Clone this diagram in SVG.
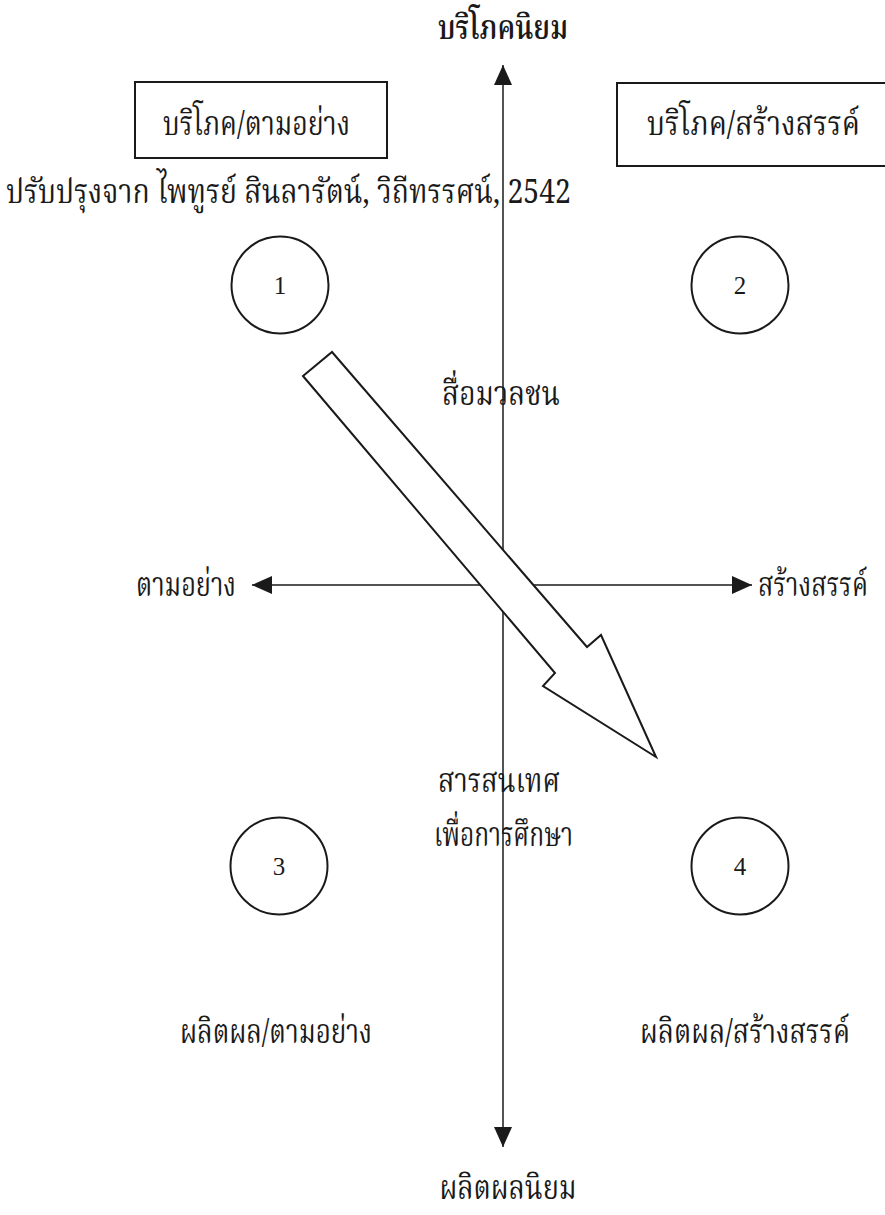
<svg xmlns="http://www.w3.org/2000/svg" width="885" height="1215" viewBox="0 0 885 1215">
<style>
.th{font-family:"Noto Serif Thai","Noto Sans Thai","Noto Sans","DejaVu Sans",sans-serif;font-size:33px;fill:#1a1a1a}
.end{text-anchor:end}
.num{font-family:"Liberation Serif",serif;font-size:25px;fill:#1a1a1a;text-anchor:middle}
.box{fill:#fff;stroke:#1a1a1a;stroke-width:2}
.circ{fill:none;stroke:#1a1a1a;stroke-width:2}
.axis{fill:none;stroke:#1a1a1a;stroke-width:1.5}
.big{fill:#fff;stroke:#1a1a1a;stroke-width:2;stroke-linejoin:miter}
</style>
<defs>
<marker id="ah" viewBox="0 0 20 18" refX="20" refY="9" markerWidth="20" markerHeight="18" markerUnits="userSpaceOnUse" orient="auto">
<path d="M0,0 L20,9 L0,18 Z" fill="#1a1a1a"/>
</marker>
</defs>
<rect width="885" height="1215" fill="#fff"/>

<g id="connectors">
<line class="axis" x1="503" y1="600" x2="503" y2="65" marker-end="url(#ah)"/>
<line class="axis" x1="503" y1="580" x2="503" y2="1147" marker-end="url(#ah)"/>
<line class="axis" x1="510" y1="585" x2="252" y2="585" marker-end="url(#ah)"/>
<line class="axis" x1="496" y1="585" x2="752" y2="585" marker-end="url(#ah)"/>
</g>

<g id="flow-arrow">
<polygon class="big" points="303,376 332,352 587,647 601,635 656,757 543,686 555,673"/>
</g>

<g id="title-top"><text class="th" x="503" y="39" text-anchor="middle" font-weight="600" textLength="130" lengthAdjust="spacingAndGlyphs">บริโภคนิยม</text></g>
<g id="title-bottom"><text class="th" x="508" y="1199" text-anchor="middle" font-size="30" textLength="137" lengthAdjust="spacingAndGlyphs">ผลิตผลนิยม</text></g>

<g id="box1">
<rect class="box" x="135" y="82" width="252" height="76"/>
<text class="th" x="163" y="135" textLength="187" lengthAdjust="spacingAndGlyphs">บริโภค/ตามอย่าง</text>
</g>
<g id="box2">
<path class="box" fill="none" d="M885,83 H617 V166 H885"/>
<text class="th end" x="860" y="135" textLength="213" lengthAdjust="spacingAndGlyphs">บริโภค/สร้างสรรค์</text>
</g>

<g id="citation"><text class="th" x="6" y="203" textLength="565" lengthAdjust="spacingAndGlyphs">ปรับปรุงจาก ไพทูรย์ สินลารัตน์, วิถีทรรศน์, 2542</text></g>

<g id="circle1"><circle class="circ" cx="280" cy="285" r="48.5"/><text class="num" x="280" y="294">1</text></g>
<g id="circle2"><circle class="circ" cx="740" cy="285" r="48.5"/><text class="num" x="740" y="294">2</text></g>
<g id="circle3"><circle class="circ" cx="279" cy="866" r="48.5"/><text class="num" x="279" y="875">3</text></g>
<g id="circle4"><circle class="circ" cx="740" cy="866" r="48.5"/><text class="num" x="740" y="875">4</text></g>

<g id="label-media"><text class="th" x="442" y="405" textLength="118" lengthAdjust="spacingAndGlyphs">สื่อมวลชน</text></g>
<g id="label-left"><text class="th" x="136" y="596" textLength="100" lengthAdjust="spacingAndGlyphs">ตามอย่าง</text></g>
<g id="label-right"><text class="th end" x="868" y="596" textLength="110" lengthAdjust="spacingAndGlyphs">สร้างสรรค์</text></g>
<g id="label-info">
<text class="th" x="438" y="792" textLength="122" lengthAdjust="spacingAndGlyphs">สารสนเทศ</text>
<text class="th" x="434" y="846" textLength="139" lengthAdjust="spacingAndGlyphs">เพื่อการศึกษา</text>
</g>
<g id="label-q3"><text class="th" x="180" y="1043" textLength="192" lengthAdjust="spacingAndGlyphs">ผลิตผล/ตามอย่าง</text></g>
<g id="label-q4"><text class="th end" x="850" y="1043" textLength="210" lengthAdjust="spacingAndGlyphs">ผลิตผล/สร้างสรรค์</text></g>
</svg>
